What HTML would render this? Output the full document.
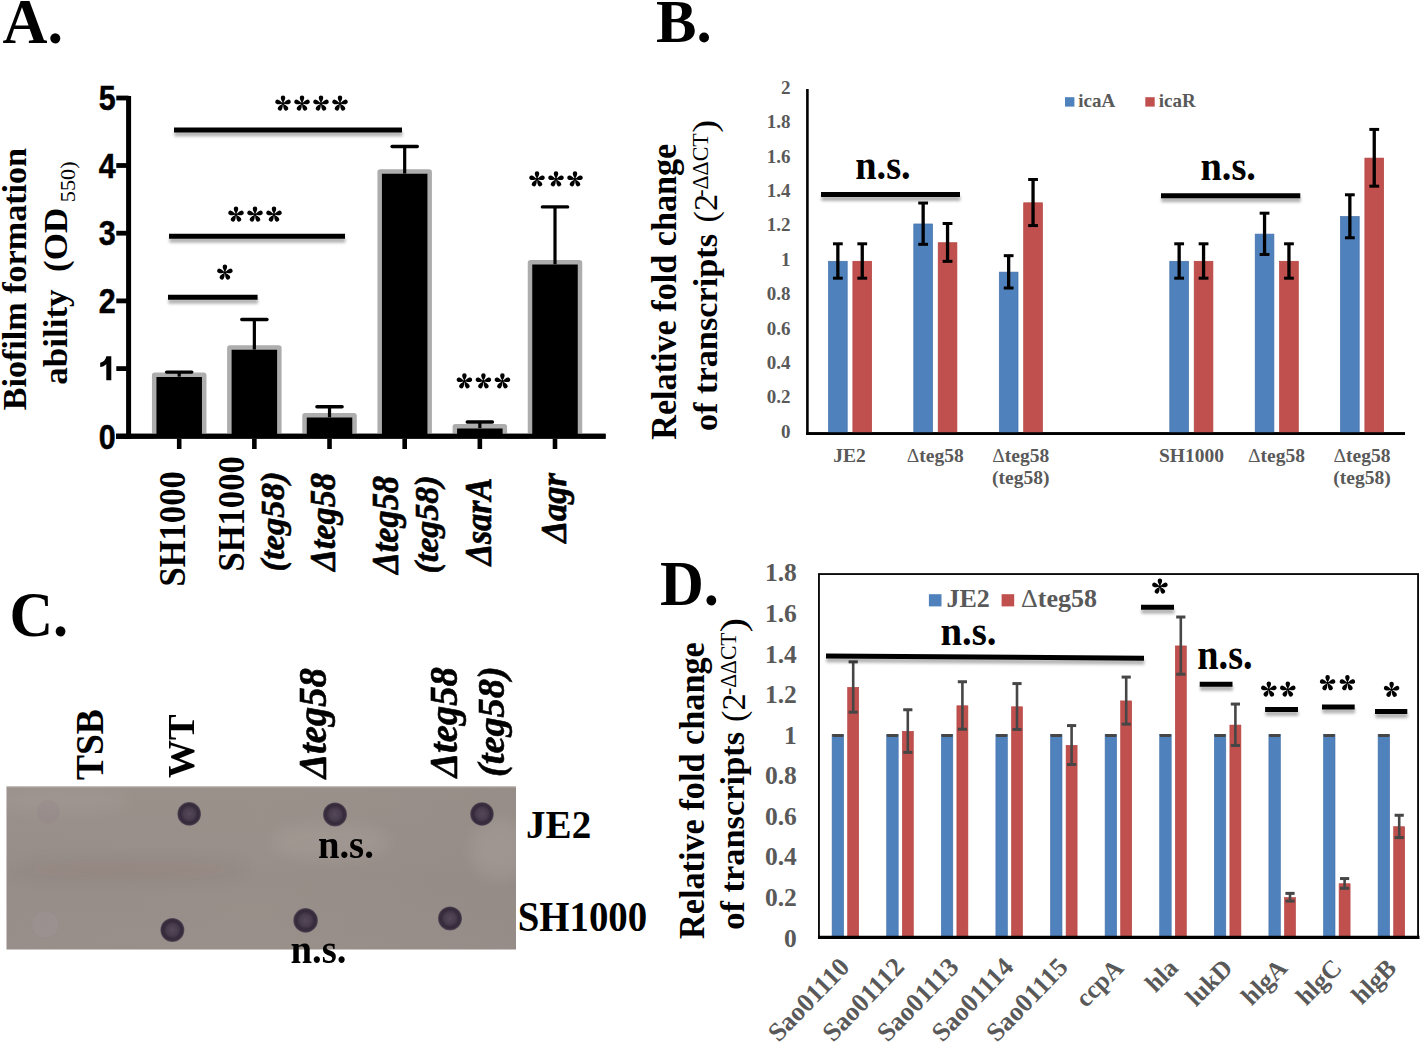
<!DOCTYPE html>
<html><head><meta charset="utf-8"><title>Figure</title>
<style>
html,body{margin:0;padding:0;background:#fff;width:1420px;height:1044px;overflow:hidden;}
svg{display:block;font-family:"Liberation Serif",serif;}
</style></head><body>
<svg width="1420" height="1044" viewBox="0 0 1420 1044">
<defs>
<filter id="blur" x="-10%" y="-150%" width="120%" height="400%"><feGaussianBlur stdDeviation="1.6"/></filter>
<filter id="soft" x="-30%" y="-30%" width="160%" height="160%"><feGaussianBlur stdDeviation="0.7"/></filter>
<path id="lobe" d="M0,0 C-0.5,-1.6 -2.25,-3.5 -2.25,-5.75 A2.25,2.25 0 0 1 2.25,-5.75 C2.25,-3.5 0.5,-1.6 0,0 Z"/>
<g id="ast"><use href="#lobe"/><use href="#lobe" transform="rotate(74)"/><use href="#lobe" transform="rotate(-74)"/><use href="#lobe" transform="rotate(148)"/><use href="#lobe" transform="rotate(-148)"/><circle r="1.2"/></g>
<linearGradient id="blotg" x1="0" y1="0" x2="0" y2="1">
<stop offset="0" stop-color="#9a908a"/>
<stop offset="0.45" stop-color="#978d88"/>
<stop offset="0.55" stop-color="#958b86"/>
<stop offset="1" stop-color="#988e89"/>
</linearGradient>
<linearGradient id="blotg2" x1="0" y1="0" x2="1" y2="0">
<stop offset="0" stop-color="#9a908b"/>
<stop offset="0.5" stop-color="#9c928c"/>
<stop offset="1" stop-color="#968c87"/>
</linearGradient>
<radialGradient id="dotg">
<stop offset="0" stop-color="#554858"/>
<stop offset="0.45" stop-color="#4a3d4f"/>
<stop offset="0.75" stop-color="#352a3a"/>
<stop offset="0.9" stop-color="#3b3040"/>
<stop offset="1" stop-color="#5e5360"/>
</radialGradient>
<clipPath id="blotclip"><rect x="6.6" y="786.6" width="509.4" height="162.8"/></clipPath>
<filter id="patch" x="-20%" y="-50%" width="140%" height="200%"><feGaussianBlur stdDeviation="8"/></filter>
</defs>
<g transform="matrix(0.989,0,0,0.99,-0.558,0.319)"><text x="3" y="43.5" font-size="63" font-weight="bold">A.</text></g>
<line x1="128.6" y1="96" x2="128.6" y2="438.8" stroke="#000" stroke-width="5"/>
<line x1="116" y1="436.3" x2="605.6" y2="436.3" stroke="#000" stroke-width="5"/>
<line x1="116.3" y1="436.3" x2="128.6" y2="436.3" stroke="#000" stroke-width="4.8"/>
<text x="0" y="0" font-size="35" font-weight="bold" text-anchor="end" font-family='"Liberation Sans", sans-serif' transform="translate(115.6,448.5) scale(0.87,1)" stroke="#000" stroke-width="0.5">0</text>
<line x1="116.3" y1="368.6" x2="128.6" y2="368.6" stroke="#000" stroke-width="4.8"/>
<path transform="translate(0,0)" d="M111.3,356.3 L111.3,380.2 L106.3,380.2 L106.3,364.3 C104.6,365.9 102.5,366.8 100.2,367 L100.2,362.7 C103.2,362.3 105.6,360.1 106.4,356.3 Z"/>
<line x1="116.3" y1="300.9" x2="128.6" y2="300.9" stroke="#000" stroke-width="4.8"/>
<text x="0" y="0" font-size="35" font-weight="bold" text-anchor="end" font-family='"Liberation Sans", sans-serif' transform="translate(115.6,313.1) scale(0.87,1)" stroke="#000" stroke-width="0.5">2</text>
<line x1="116.3" y1="233.2" x2="128.6" y2="233.2" stroke="#000" stroke-width="4.8"/>
<text x="0" y="0" font-size="35" font-weight="bold" text-anchor="end" font-family='"Liberation Sans", sans-serif' transform="translate(115.6,245.4) scale(0.87,1)" stroke="#000" stroke-width="0.5">3</text>
<line x1="116.3" y1="165.5" x2="128.6" y2="165.5" stroke="#000" stroke-width="4.8"/>
<text x="0" y="0" font-size="35" font-weight="bold" text-anchor="end" font-family='"Liberation Sans", sans-serif' transform="translate(115.6,177.7) scale(0.87,1)" stroke="#000" stroke-width="0.5">4</text>
<line x1="116.3" y1="98" x2="128.6" y2="98" stroke="#000" stroke-width="4.8"/>
<text x="0" y="0" font-size="35" font-weight="bold" text-anchor="end" font-family='"Liberation Sans", sans-serif' transform="translate(115.6,110.2) scale(0.87,1)" stroke="#000" stroke-width="0.5">5</text>
<line x1="179.2" y1="436.3" x2="179.2" y2="449" stroke="#000" stroke-width="4.6"/>
<rect x="154.2" y="374.693" width="50" height="61.607" fill="#000" stroke="#adadad" stroke-width="4.5" rx="0.6"/>
<line x1="179.2" y1="376.693" x2="179.2" y2="372.1" stroke="#000" stroke-width="3.2"/>
<line x1="166.6" y1="372.1" x2="191.8" y2="372.1" stroke="#000" stroke-width="3.4" stroke-linecap="round"/>
<line x1="254.36" y1="436.3" x2="254.36" y2="449" stroke="#000" stroke-width="4.6"/>
<rect x="229.36" y="347.613" width="50" height="88.687" fill="#000" stroke="#adadad" stroke-width="4.5" rx="0.6"/>
<line x1="254.36" y1="349.613" x2="254.36" y2="319.5" stroke="#000" stroke-width="3.2"/>
<line x1="241.76" y1="319.5" x2="266.96" y2="319.5" stroke="#000" stroke-width="3.4" stroke-linecap="round"/>
<line x1="329.52" y1="436.3" x2="329.52" y2="449" stroke="#000" stroke-width="4.6"/>
<rect x="304.52" y="415.313" width="50" height="20.987" fill="#000" stroke="#adadad" stroke-width="4.5" rx="0.6"/>
<line x1="329.52" y1="417.313" x2="329.52" y2="406.7" stroke="#000" stroke-width="3.2"/>
<line x1="316.92" y1="406.7" x2="342.12" y2="406.7" stroke="#000" stroke-width="3.4" stroke-linecap="round"/>
<line x1="404.68" y1="436.3" x2="404.68" y2="449" stroke="#000" stroke-width="4.6"/>
<rect x="379.68" y="171.593" width="50" height="264.707" fill="#000" stroke="#adadad" stroke-width="4.5" rx="0.6"/>
<line x1="404.68" y1="173.593" x2="404.68" y2="146.5" stroke="#000" stroke-width="3.2"/>
<line x1="392.08" y1="146.5" x2="417.28" y2="146.5" stroke="#000" stroke-width="3.4" stroke-linecap="round"/>
<line x1="479.84" y1="436.3" x2="479.84" y2="449" stroke="#000" stroke-width="4.6"/>
<rect x="454.84" y="426.145" width="50" height="10.155" fill="#000" stroke="#adadad" stroke-width="4.5" rx="0.6"/>
<line x1="479.84" y1="428.145" x2="479.84" y2="422" stroke="#000" stroke-width="3.2"/>
<line x1="467.24" y1="422" x2="492.44" y2="422" stroke="#000" stroke-width="3.4" stroke-linecap="round"/>
<line x1="555" y1="436.3" x2="555" y2="449" stroke="#000" stroke-width="4.6"/>
<rect x="530" y="262.311" width="50" height="173.989" fill="#000" stroke="#adadad" stroke-width="4.5" rx="0.6"/>
<line x1="555" y1="264.311" x2="555" y2="206.9" stroke="#000" stroke-width="3.2"/>
<line x1="542.4" y1="206.9" x2="567.6" y2="206.9" stroke="#000" stroke-width="3.4" stroke-linecap="round"/>
<line x1="116" y1="436.3" x2="605.6" y2="436.3" stroke="#000" stroke-width="5"/>
<rect x="0" y="-2.5" width="89.6" height="5" fill="#000" opacity="0.3" filter="url(#blur)" transform="translate(168.4,301.2) rotate(0)"/>
<line x1="168" y1="297.3" x2="257.6" y2="297.3" stroke="#000" stroke-width="5"/>
<rect x="0" y="-2.5" width="176" height="5" fill="#000" opacity="0.3" filter="url(#blur)" transform="translate(169.4,240.2) rotate(0)"/>
<line x1="169" y1="236.3" x2="345" y2="236.3" stroke="#000" stroke-width="5"/>
<rect x="0" y="-2.5" width="228" height="5" fill="#000" opacity="0.3" filter="url(#blur)" transform="translate(174.4,133.9) rotate(0)"/>
<line x1="174" y1="130" x2="402" y2="130" stroke="#000" stroke-width="5"/>
<use href="#ast" x="224.9" y="272.4"/>
<use href="#ast" x="236" y="214.5"/>
<use href="#ast" x="255" y="214.5"/>
<use href="#ast" x="274" y="214.5"/>
<use href="#ast" x="283" y="103.5"/>
<use href="#ast" x="302" y="103.5"/>
<use href="#ast" x="321" y="103.5"/>
<use href="#ast" x="340" y="103.5"/>
<use href="#ast" x="464.4" y="381.3"/>
<use href="#ast" x="483.4" y="381.3"/>
<use href="#ast" x="502.4" y="381.3"/>
<use href="#ast" x="537" y="179.3"/>
<use href="#ast" x="556" y="179.3"/>
<use href="#ast" x="575" y="179.3"/>
<g transform="matrix(0.948,0,0,0.961,1.252,10.72)"><text x="0" y="0" font-size="35.5" font-weight="bold" text-anchor="middle" transform="translate(26,279.3) rotate(-90)">Biofilm formation</text></g>
<g transform="matrix(0.97,0,0,0.986,2.349,3.9)"><text transform="translate(66.8,273) rotate(-90)" x="0" y="0" font-size="35.5" font-weight="bold" text-anchor="middle">ability&#160;&#160;(OD<tspan font-size="22.6" font-weight="normal" dy="8">&#160;550)</tspan></text></g>
<g transform="matrix(1.091,0,0,1.018,-16.818,-9.618)"><text x="0" y="0" font-size="34" font-weight="bold" text-anchor="middle" transform="translate(185,529) rotate(-90)">SH1000</text></g>
<g transform="matrix(1.091,0,0,1.018,-22.182,-9.345)"><text x="0" y="0" font-size="34" font-weight="bold" text-anchor="middle" transform="translate(244,514) rotate(-90)">SH1000</text></g>
<g transform="matrix(0.969,0,0,1.021,7.188,-10.979)"><text x="0" y="0" font-size="34" font-weight="bold" font-style="italic" text-anchor="middle" transform="translate(285.5,521.5) rotate(-90)" stroke="#000" stroke-width="0.6">(teg58)</text></g>
<g transform="matrix(1.083,0,0,1.01,-28.386,-5.837)"><text x="0" y="0" font-size="34" font-weight="bold" font-style="italic" text-anchor="middle" transform="translate(335.5,522.5) rotate(-90)" stroke="#000" stroke-width="0.6">&#916;teg58</text></g>
<g transform="matrix(1.09,0,0,1.01,-35.71,-5.867)"><text x="0" y="0" font-size="34" font-weight="bold" font-style="italic" text-anchor="middle" transform="translate(398,525.5) rotate(-90)" stroke="#000" stroke-width="0.6">&#916;teg58</text></g>
<g transform="matrix(0.969,0,0,1,12,0)"><text x="0" y="0" font-size="34" font-weight="bold" font-style="italic" text-anchor="middle" transform="translate(439.5,524.5) rotate(-90)" stroke="#000" stroke-width="0.6">(teg58)</text></g>
<g transform="matrix(1.091,0,0,1,-44.636,-1)"><text x="0" y="0" font-size="34" font-weight="bold" font-style="italic" text-anchor="middle" transform="translate(491,522.5) rotate(-90)" stroke="#000" stroke-width="0.6">&#916;sarA</text></g>
<g transform="matrix(1.069,0,0,1.014,-39.586,-7.771)"><text x="0" y="0" font-size="34" font-weight="bold" font-style="italic" text-anchor="middle" transform="translate(566.5,508.5) rotate(-90)" stroke="#000" stroke-width="0.6">&#916;agr</text></g>
<g transform="matrix(0.996,0,0,1.015,2.527,-0.13)"><text x="656" y="41.5" font-size="61" font-weight="bold">B.</text></g>
<line x1="807.4" y1="89" x2="807.4" y2="435" stroke="#000" stroke-width="2.6"/>
<line x1="806.1" y1="433.6" x2="1405" y2="433.6" stroke="#000" stroke-width="2.9"/>
<text x="790.5" y="437.8" font-size="19" font-weight="bold" fill="#595959" text-anchor="end">0</text>
<text x="790.5" y="403.4" font-size="19" font-weight="bold" fill="#595959" text-anchor="end">0.2</text>
<text x="790.5" y="369" font-size="19" font-weight="bold" fill="#595959" text-anchor="end">0.4</text>
<text x="790.5" y="334.6" font-size="19" font-weight="bold" fill="#595959" text-anchor="end">0.6</text>
<text x="790.5" y="300.2" font-size="19" font-weight="bold" fill="#595959" text-anchor="end">0.8</text>
<text x="790.5" y="265.8" font-size="19" font-weight="bold" fill="#595959" text-anchor="end">1</text>
<text x="790.5" y="231.4" font-size="19" font-weight="bold" fill="#595959" text-anchor="end">1.2</text>
<text x="790.5" y="197" font-size="19" font-weight="bold" fill="#595959" text-anchor="end">1.4</text>
<text x="790.5" y="162.6" font-size="19" font-weight="bold" fill="#595959" text-anchor="end">1.6</text>
<text x="790.5" y="128.2" font-size="19" font-weight="bold" fill="#595959" text-anchor="end">1.8</text>
<text x="790.5" y="93.8" font-size="19" font-weight="bold" fill="#595959" text-anchor="end">2</text>
<rect x="828.5" y="261.3" width="18.7" height="171.7" fill="#4f81bd" stroke="#4470a8" stroke-width="0.7"/>
<rect x="852.9" y="261.3" width="18.7" height="171.7" fill="#c0504d" stroke="#b2403d" stroke-width="0.7"/>
<line x1="837.85" y1="243.8" x2="837.85" y2="278.2" stroke="#000" stroke-width="3.3"/>
<line x1="832.95" y1="243.8" x2="842.75" y2="243.8" stroke="#000" stroke-width="3"/>
<line x1="832.95" y1="278.2" x2="842.75" y2="278.2" stroke="#000" stroke-width="3"/>
<line x1="862.25" y1="243.8" x2="862.25" y2="278.2" stroke="#000" stroke-width="3.3"/>
<line x1="857.35" y1="243.8" x2="867.15" y2="243.8" stroke="#000" stroke-width="3"/>
<line x1="857.35" y1="278.2" x2="867.15" y2="278.2" stroke="#000" stroke-width="3"/>
<rect x="913.8" y="223.976" width="18.7" height="209.024" fill="#4f81bd" stroke="#4470a8" stroke-width="0.7"/>
<rect x="938.2" y="242.724" width="18.7" height="190.276" fill="#c0504d" stroke="#b2403d" stroke-width="0.7"/>
<line x1="923.15" y1="203.036" x2="923.15" y2="244.316" stroke="#000" stroke-width="3.3"/>
<line x1="918.25" y1="203.036" x2="928.05" y2="203.036" stroke="#000" stroke-width="3"/>
<line x1="918.25" y1="244.316" x2="928.05" y2="244.316" stroke="#000" stroke-width="3"/>
<line x1="947.55" y1="223.504" x2="947.55" y2="261.344" stroke="#000" stroke-width="3.3"/>
<line x1="942.65" y1="223.504" x2="952.45" y2="223.504" stroke="#000" stroke-width="3"/>
<line x1="942.65" y1="261.344" x2="952.45" y2="261.344" stroke="#000" stroke-width="3"/>
<rect x="999.3" y="272.136" width="18.7" height="160.864" fill="#4f81bd" stroke="#4470a8" stroke-width="0.7"/>
<rect x="1023.7" y="202.82" width="18.7" height="230.18" fill="#c0504d" stroke="#b2403d" stroke-width="0.7"/>
<line x1="1008.65" y1="255.668" x2="1008.65" y2="288.004" stroke="#000" stroke-width="3.3"/>
<line x1="1003.75" y1="255.668" x2="1013.55" y2="255.668" stroke="#000" stroke-width="3"/>
<line x1="1003.75" y1="288.004" x2="1013.55" y2="288.004" stroke="#000" stroke-width="3"/>
<line x1="1033.05" y1="179.472" x2="1033.05" y2="225.568" stroke="#000" stroke-width="3.3"/>
<line x1="1028.15" y1="179.472" x2="1037.95" y2="179.472" stroke="#000" stroke-width="3"/>
<line x1="1028.15" y1="225.568" x2="1037.95" y2="225.568" stroke="#000" stroke-width="3"/>
<rect x="1169.8" y="261.3" width="18.7" height="171.7" fill="#4f81bd" stroke="#4470a8" stroke-width="0.7"/>
<rect x="1194.2" y="261.3" width="18.7" height="171.7" fill="#c0504d" stroke="#b2403d" stroke-width="0.7"/>
<line x1="1179.15" y1="243.8" x2="1179.15" y2="278.2" stroke="#000" stroke-width="3.3"/>
<line x1="1174.25" y1="243.8" x2="1184.05" y2="243.8" stroke="#000" stroke-width="3"/>
<line x1="1174.25" y1="278.2" x2="1184.05" y2="278.2" stroke="#000" stroke-width="3"/>
<line x1="1203.55" y1="243.8" x2="1203.55" y2="278.2" stroke="#000" stroke-width="3.3"/>
<line x1="1198.65" y1="243.8" x2="1208.45" y2="243.8" stroke="#000" stroke-width="3"/>
<line x1="1198.65" y1="278.2" x2="1208.45" y2="278.2" stroke="#000" stroke-width="3"/>
<rect x="1255.2" y="234.124" width="18.7" height="198.876" fill="#4f81bd" stroke="#4470a8" stroke-width="0.7"/>
<rect x="1279.6" y="261.3" width="18.7" height="171.7" fill="#c0504d" stroke="#b2403d" stroke-width="0.7"/>
<line x1="1264.55" y1="213.184" x2="1264.55" y2="254.464" stroke="#000" stroke-width="3.3"/>
<line x1="1259.65" y1="213.184" x2="1269.45" y2="213.184" stroke="#000" stroke-width="3"/>
<line x1="1259.65" y1="254.464" x2="1269.45" y2="254.464" stroke="#000" stroke-width="3"/>
<line x1="1288.95" y1="243.8" x2="1288.95" y2="278.2" stroke="#000" stroke-width="3.3"/>
<line x1="1284.05" y1="243.8" x2="1293.85" y2="243.8" stroke="#000" stroke-width="3"/>
<line x1="1284.05" y1="278.2" x2="1293.85" y2="278.2" stroke="#000" stroke-width="3"/>
<rect x="1340.5" y="216.58" width="18.7" height="216.42" fill="#4f81bd" stroke="#4470a8" stroke-width="0.7"/>
<rect x="1364.9" y="158.1" width="18.7" height="274.9" fill="#c0504d" stroke="#b2403d" stroke-width="0.7"/>
<line x1="1349.85" y1="194.78" x2="1349.85" y2="237.78" stroke="#000" stroke-width="3.3"/>
<line x1="1344.95" y1="194.78" x2="1354.75" y2="194.78" stroke="#000" stroke-width="3"/>
<line x1="1344.95" y1="237.78" x2="1354.75" y2="237.78" stroke="#000" stroke-width="3"/>
<line x1="1374.25" y1="129.42" x2="1374.25" y2="186.18" stroke="#000" stroke-width="3.3"/>
<line x1="1369.35" y1="129.42" x2="1379.15" y2="129.42" stroke="#000" stroke-width="3"/>
<line x1="1369.35" y1="186.18" x2="1379.15" y2="186.18" stroke="#000" stroke-width="3"/>
<line x1="806.1" y1="433.6" x2="1405" y2="433.6" stroke="#000" stroke-width="2.9"/>
<rect x="1065" y="97.2" width="9.4" height="9.4" fill="#4f81bd"/>
<text x="1078.3" y="106.6" font-size="19" font-weight="bold" fill="#595959">icaA</text>
<rect x="1145.3" y="97.2" width="9.4" height="9.4" fill="#c0504d"/>
<text x="1158.7" y="106.6" font-size="19" font-weight="bold" fill="#595959">icaR</text>
<rect x="0" y="-2.5" width="139" height="5" fill="#000" opacity="0.3" filter="url(#blur)" transform="translate(821.4,198.5) rotate(0)"/>
<line x1="821" y1="194.6" x2="960" y2="194.6" stroke="#000" stroke-width="5"/>
<g transform="matrix(1.066,0,0,1.147,-57.762,-26.871)"><text x="882.5" y="179.5" font-size="36" font-weight="bold" text-anchor="middle">n.s.</text></g>
<rect x="0" y="-2.5" width="139.3" height="5" fill="#000" opacity="0.3" filter="url(#blur)" transform="translate(1161.4,199.7) rotate(0)"/>
<line x1="1161" y1="195.8" x2="1300.3" y2="195.8" stroke="#000" stroke-width="5"/>
<g transform="matrix(1.066,0,0,1.147,-80.332,-27.318)"><text x="1227.5" y="180.5" font-size="36" font-weight="bold" text-anchor="middle">n.s.</text></g>
<text x="849.5" y="461.5" font-size="19.5" font-weight="bold" fill="#595959" text-anchor="middle">JE2</text>
<text x="935.2" y="461.5" font-size="19.5" font-weight="bold" fill="#595959" text-anchor="middle"><tspan font-weight="normal">&#916;</tspan>teg58</text>
<text x="1020.7" y="461.5" font-size="19.5" font-weight="bold" fill="#595959" text-anchor="middle"><tspan font-weight="normal">&#916;</tspan>teg58</text>
<text x="1020.7" y="483.5" font-size="19.5" font-weight="bold" fill="#595959" text-anchor="middle">(teg58)</text>
<text x="1191.5" y="461.5" font-size="19.5" font-weight="bold" fill="#595959" text-anchor="middle">SH1000</text>
<text x="1276.5" y="461.5" font-size="19.5" font-weight="bold" fill="#595959" text-anchor="middle"><tspan font-weight="normal">&#916;</tspan>teg58</text>
<text x="1362" y="461.5" font-size="19.5" font-weight="bold" fill="#595959" text-anchor="middle"><tspan font-weight="normal">&#916;</tspan>teg58</text>
<text x="1362" y="483.5" font-size="19.5" font-weight="bold" fill="#595959" text-anchor="middle">(teg58)</text>
<g transform="matrix(0.97,0,0,0.949,19.558,15.197)"><text x="0" y="0" font-size="36" font-weight="bold" text-anchor="middle" transform="translate(677,291.4) rotate(-90)">Relative fold change</text></g>
<g transform="matrix(0.93,0,0,0.953,49.6,21.299)"><text x="0" y="0" font-size="36" font-weight="bold" transform="translate(717.5,430) rotate(-90)">of transcripts</text></g>
<g transform="matrix(1.1,0,0,1.109,-72.2,-23.722)"><text x="0" y="0" font-size="31" transform="translate(717.5,222) rotate(-90)">(2</text></g>
<g transform="matrix(1.086,0,0,0.997,-60.986,1.429)"><text x="0" y="0" font-size="22" transform="translate(708,196) rotate(-90)">-&#916;&#916;CT</text></g>
<g transform="matrix(1.062,0,0,1.25,-45.8,-32.35)"><text x="0" y="0" font-size="31" transform="translate(717.5,132) rotate(-90)">)</text></g>
<g transform="matrix(0.991,0,0,1.053,-1.47,-33.843)"><text x="11" y="636.5" font-size="61" font-weight="bold">C.</text></g>
<rect x="6.6" y="786.6" width="509.4" height="162.8" fill="url(#blotg)"/>
<rect x="6.6" y="786.6" width="509.4" height="162.8" fill="url(#blotg2)" opacity="0.5"/>
<g clip-path="url(#blotclip)" filter="url(#patch)"><ellipse cx="330" cy="842" rx="60" ry="18" fill="#fff" opacity="0.07"/><ellipse cx="500" cy="850" rx="30" ry="30" fill="#fff" opacity="0.08"/><ellipse cx="60" cy="800" rx="70" ry="14" fill="#fff" opacity="0.05"/><ellipse cx="130" cy="870" rx="120" ry="10" fill="#3a2a2a" opacity="0.05"/></g>
<rect x="6.6" y="786.6" width="509.4" height="1" fill="#b4aca6" opacity="0.8"/>
<circle cx="48.3" cy="811.8" r="11" fill="#8a7c88" opacity="0.18" stroke="#7a6a78" stroke-opacity="0.25" stroke-width="1.2" filter="url(#soft)"/>
<circle cx="45.3" cy="924.6" r="13.6" fill="#a69ba6" opacity="0.22" stroke="#8a7a88" stroke-opacity="0.3" stroke-width="1.2" filter="url(#soft)"/>
<circle cx="189.2" cy="813.9" r="11.8" fill="url(#dotg)" filter="url(#soft)"/>
<circle cx="172.4" cy="930" r="12" fill="url(#dotg)" filter="url(#soft)"/>
<circle cx="335" cy="814.4" r="12" fill="url(#dotg)" filter="url(#soft)"/>
<circle cx="305.6" cy="920.4" r="12.3" fill="url(#dotg)" filter="url(#soft)"/>
<circle cx="482" cy="814" r="11.8" fill="url(#dotg)" filter="url(#soft)"/>
<circle cx="450" cy="918.4" r="12" fill="url(#dotg)" filter="url(#soft)"/>
<g transform="matrix(1.04,0,0,0.986,-4.12,10)"><text x="0" y="0" font-size="38" font-weight="bold" text-anchor="middle" transform="translate(103,745) rotate(-90)">TSB</text></g>
<g transform="matrix(1,0,0,1.006,-1,-5.019)"><text x="0" y="0" font-size="38" font-weight="bold" text-anchor="middle" transform="translate(195,746.8) rotate(-90)">WT</text></g>
<g transform="matrix(1.042,0,0,1.018,-14.812,-14.312)"><text x="0" y="0" font-size="38" font-weight="bold" font-style="italic" text-anchor="middle" transform="translate(327,724.5) rotate(-90)" stroke="#000" stroke-width="0.6">&#916;teg58</text></g>
<g transform="matrix(1.048,0,0,1.018,-22.994,-14.294)"><text x="0" y="0" font-size="38" font-weight="bold" font-style="italic" text-anchor="middle" transform="translate(458,723.5) rotate(-90)" stroke="#000" stroke-width="0.6">&#916;teg58</text></g>
<g transform="matrix(1,0,0,1.009,-1,-7.321)"><text x="0" y="0" font-size="38" font-weight="bold" font-style="italic" text-anchor="middle" transform="translate(505,722.5) rotate(-90)" stroke="#000" stroke-width="0.6">(teg58)</text></g>
<g transform="matrix(1.047,0,0,1.089,-16.059,-76.756)"><text x="345.7" y="858.6" font-size="37" font-weight="bold" text-anchor="middle">n.s.</text></g>
<g transform="matrix(1.048,0,0,1.133,-15.064,-127.867)"><text x="318.2" y="962.4" font-size="37" font-weight="bold" text-anchor="middle">n.s.</text></g>
<g transform="matrix(0.977,0,0,1.019,11.675,-16.635)"><text x="526.5" y="838.5" font-size="40" font-weight="bold">JE2</text></g>
<g transform="matrix(0.971,0,0,1.05,13.729,-46.2)"><text x="519" y="930.3" font-size="40" font-weight="bold">SH1000</text></g>
<g transform="matrix(0.995,0,0,1.03,3.341,-17.02)"><text x="660" y="604.4" font-size="61" font-weight="bold">D.</text></g>
<rect x="818.95" y="574.05" width="599.1" height="363" fill="none" stroke="#000" stroke-width="1.8"/>
<text x="796.8" y="946.6" font-size="25.5" font-weight="bold" fill="#595959" text-anchor="end">0</text>
<text x="796.8" y="906.02" font-size="25.5" font-weight="bold" fill="#595959" text-anchor="end">0.2</text>
<text x="796.8" y="865.44" font-size="25.5" font-weight="bold" fill="#595959" text-anchor="end">0.4</text>
<text x="796.8" y="824.86" font-size="25.5" font-weight="bold" fill="#595959" text-anchor="end">0.6</text>
<text x="796.8" y="784.28" font-size="25.5" font-weight="bold" fill="#595959" text-anchor="end">0.8</text>
<text x="796.8" y="743.7" font-size="25.5" font-weight="bold" fill="#595959" text-anchor="end">1</text>
<text x="796.8" y="703.12" font-size="25.5" font-weight="bold" fill="#595959" text-anchor="end">1.2</text>
<text x="796.8" y="662.54" font-size="25.5" font-weight="bold" fill="#595959" text-anchor="end">1.4</text>
<text x="796.8" y="621.96" font-size="25.5" font-weight="bold" fill="#595959" text-anchor="end">1.6</text>
<text x="796.8" y="581.38" font-size="25.5" font-weight="bold" fill="#595959" text-anchor="end">1.8</text>
<rect x="832.1" y="734.5" width="11.5" height="202.9" fill="#4f81bd" stroke="#4470a8" stroke-width="0.6"/>
<rect x="832.1" y="733.9" width="11.5" height="3" fill="#464646" rx="1.2"/>
<rect x="847.7" y="687.321" width="11" height="250.079" fill="#c0504d" stroke="#b2403d" stroke-width="0.6"/>
<line x1="853.2" y1="661.862" x2="853.2" y2="712.181" stroke="#464646" stroke-width="2.6"/>
<line x1="848.6" y1="661.862" x2="857.8" y2="661.862" stroke="#464646" stroke-width="3"/>
<line x1="848.6" y1="712.181" x2="857.8" y2="712.181" stroke="#464646" stroke-width="3"/>
<rect x="886.7" y="734.5" width="11.5" height="202.9" fill="#4f81bd" stroke="#4470a8" stroke-width="0.6"/>
<rect x="886.7" y="733.9" width="11.5" height="3" fill="#464646" rx="1.2"/>
<rect x="902.3" y="731.351" width="11" height="206.049" fill="#c0504d" stroke="#b2403d" stroke-width="0.6"/>
<line x1="907.8" y1="709.746" x2="907.8" y2="752.355" stroke="#464646" stroke-width="2.6"/>
<line x1="903.2" y1="709.746" x2="912.4" y2="709.746" stroke="#464646" stroke-width="3"/>
<line x1="903.2" y1="752.355" x2="912.4" y2="752.355" stroke="#464646" stroke-width="3"/>
<rect x="941.3" y="734.5" width="11.5" height="202.9" fill="#4f81bd" stroke="#4470a8" stroke-width="0.6"/>
<rect x="941.3" y="733.9" width="11.5" height="3" fill="#464646" rx="1.2"/>
<rect x="956.9" y="705.785" width="11" height="231.615" fill="#c0504d" stroke="#b2403d" stroke-width="0.6"/>
<line x1="962.4" y1="681.746" x2="962.4" y2="729.225" stroke="#464646" stroke-width="2.6"/>
<line x1="957.8" y1="681.746" x2="967" y2="681.746" stroke="#464646" stroke-width="3"/>
<line x1="957.8" y1="729.225" x2="967" y2="729.225" stroke="#464646" stroke-width="3"/>
<rect x="995.9" y="734.5" width="11.5" height="202.9" fill="#4f81bd" stroke="#4470a8" stroke-width="0.6"/>
<rect x="995.9" y="733.9" width="11.5" height="3" fill="#464646" rx="1.2"/>
<rect x="1011.5" y="706.8" width="11" height="230.6" fill="#c0504d" stroke="#b2403d" stroke-width="0.6"/>
<line x1="1017" y1="683.572" x2="1017" y2="729.428" stroke="#464646" stroke-width="2.6"/>
<line x1="1012.4" y1="683.572" x2="1021.6" y2="683.572" stroke="#464646" stroke-width="3"/>
<line x1="1012.4" y1="729.428" x2="1021.6" y2="729.428" stroke="#464646" stroke-width="3"/>
<rect x="1050.5" y="734.5" width="11.5" height="202.9" fill="#4f81bd" stroke="#4470a8" stroke-width="0.6"/>
<rect x="1050.5" y="733.9" width="11.5" height="3" fill="#464646" rx="1.2"/>
<rect x="1066.1" y="745.351" width="11" height="192.049" fill="#c0504d" stroke="#b2403d" stroke-width="0.6"/>
<line x1="1071.6" y1="725.572" x2="1071.6" y2="764.529" stroke="#464646" stroke-width="2.6"/>
<line x1="1067" y1="725.572" x2="1076.2" y2="725.572" stroke="#464646" stroke-width="3"/>
<line x1="1067" y1="764.529" x2="1076.2" y2="764.529" stroke="#464646" stroke-width="3"/>
<rect x="1105.1" y="734.5" width="11.5" height="202.9" fill="#4f81bd" stroke="#4470a8" stroke-width="0.6"/>
<rect x="1105.1" y="733.9" width="11.5" height="3" fill="#464646" rx="1.2"/>
<rect x="1120.7" y="700.916" width="11" height="236.484" fill="#c0504d" stroke="#b2403d" stroke-width="0.6"/>
<line x1="1126.2" y1="677.079" x2="1126.2" y2="724.152" stroke="#464646" stroke-width="2.6"/>
<line x1="1121.6" y1="677.079" x2="1130.8" y2="677.079" stroke="#464646" stroke-width="3"/>
<line x1="1121.6" y1="724.152" x2="1130.8" y2="724.152" stroke="#464646" stroke-width="3"/>
<rect x="1159.7" y="734.5" width="11.5" height="202.9" fill="#4f81bd" stroke="#4470a8" stroke-width="0.6"/>
<rect x="1159.7" y="733.9" width="11.5" height="3" fill="#464646" rx="1.2"/>
<rect x="1175.3" y="645.93" width="11" height="291.47" fill="#c0504d" stroke="#b2403d" stroke-width="0.6"/>
<line x1="1180.8" y1="617.021" x2="1180.8" y2="674.239" stroke="#464646" stroke-width="2.6"/>
<line x1="1176.2" y1="617.021" x2="1185.4" y2="617.021" stroke="#464646" stroke-width="3"/>
<line x1="1176.2" y1="674.239" x2="1185.4" y2="674.239" stroke="#464646" stroke-width="3"/>
<rect x="1214.3" y="734.5" width="11.5" height="202.9" fill="#4f81bd" stroke="#4470a8" stroke-width="0.6"/>
<rect x="1214.3" y="733.9" width="11.5" height="3" fill="#464646" rx="1.2"/>
<rect x="1229.9" y="725.061" width="11" height="212.339" fill="#c0504d" stroke="#b2403d" stroke-width="0.6"/>
<line x1="1235.4" y1="704.065" x2="1235.4" y2="745.457" stroke="#464646" stroke-width="2.6"/>
<line x1="1230.8" y1="704.065" x2="1240" y2="704.065" stroke="#464646" stroke-width="3"/>
<line x1="1230.8" y1="745.457" x2="1240" y2="745.457" stroke="#464646" stroke-width="3"/>
<rect x="1268.9" y="734.5" width="11.5" height="202.9" fill="#4f81bd" stroke="#4470a8" stroke-width="0.6"/>
<rect x="1268.9" y="733.9" width="11.5" height="3" fill="#464646" rx="1.2"/>
<rect x="1284.5" y="897.526" width="11" height="39.874" fill="#c0504d" stroke="#b2403d" stroke-width="0.6"/>
<line x1="1290" y1="893.371" x2="1290" y2="901.081" stroke="#464646" stroke-width="2.6"/>
<line x1="1285.4" y1="893.371" x2="1294.6" y2="893.371" stroke="#464646" stroke-width="3"/>
<line x1="1285.4" y1="901.081" x2="1294.6" y2="901.081" stroke="#464646" stroke-width="3"/>
<rect x="1323.5" y="734.5" width="11.5" height="202.9" fill="#4f81bd" stroke="#4470a8" stroke-width="0.6"/>
<rect x="1323.5" y="733.9" width="11.5" height="3" fill="#464646" rx="1.2"/>
<rect x="1339.1" y="883.729" width="11" height="53.671" fill="#c0504d" stroke="#b2403d" stroke-width="0.6"/>
<line x1="1344.6" y1="878.559" x2="1344.6" y2="888.298" stroke="#464646" stroke-width="2.6"/>
<line x1="1340" y1="878.559" x2="1349.2" y2="878.559" stroke="#464646" stroke-width="3"/>
<line x1="1340" y1="888.298" x2="1349.2" y2="888.298" stroke="#464646" stroke-width="3"/>
<rect x="1378.1" y="734.5" width="11.5" height="202.9" fill="#4f81bd" stroke="#4470a8" stroke-width="0.6"/>
<rect x="1378.1" y="733.9" width="11.5" height="3" fill="#464646" rx="1.2"/>
<rect x="1393.7" y="826.714" width="11" height="110.686" fill="#c0504d" stroke="#b2403d" stroke-width="0.6"/>
<line x1="1399.2" y1="815.254" x2="1399.2" y2="837.573" stroke="#464646" stroke-width="2.6"/>
<line x1="1394.6" y1="815.254" x2="1403.8" y2="815.254" stroke="#464646" stroke-width="3"/>
<line x1="1394.6" y1="837.573" x2="1403.8" y2="837.573" stroke="#464646" stroke-width="3"/>
<line x1="818" y1="937.4" x2="1419.5" y2="937.4" stroke="#000" stroke-width="3.1"/>
<rect x="928.9" y="594.2" width="12.6" height="12.2" fill="#4f81bd"/>
<text x="946.5" y="607.2" font-size="26" font-weight="bold" fill="#595959">JE2</text>
<rect x="1001.6" y="594.2" width="12.6" height="12.2" fill="#c0504d"/>
<text x="1021" y="607.2" font-size="26" font-weight="bold" fill="#595959"><tspan font-weight="normal">&#916;</tspan>teg58</text>
<rect x="0" y="-2.5" width="318.008" height="5" fill="#000" opacity="0.3" filter="url(#blur)" transform="translate(826.4,659.9) rotate(0.396)"/>
<line x1="826" y1="656" x2="1144" y2="658.2" stroke="#000" stroke-width="5"/>
<g transform="matrix(1.048,0,0,1.122,-46.264,-78.633)"><text x="968.2" y="645.2" font-size="37" font-weight="bold" text-anchor="middle">n.s.</text></g>
<rect x="0" y="-2.5" width="33" height="5" fill="#000" opacity="0.3" filter="url(#blur)" transform="translate(1141.4,611.2) rotate(0)"/>
<line x1="1141" y1="607.3" x2="1174" y2="607.3" stroke="#000" stroke-width="5"/>
<use href="#ast" x="1159.9" y="586.5"/>
<rect x="0" y="-2.5" width="32.8" height="5" fill="#000" opacity="0.3" filter="url(#blur)" transform="translate(1200.1,688.2) rotate(0)"/>
<line x1="1199.7" y1="684.3" x2="1232.5" y2="684.3" stroke="#000" stroke-width="5"/>
<g transform="matrix(1.033,0,0,1.2,-40.467,-133.8)"><text x="1225" y="669" font-size="37" font-weight="bold" text-anchor="middle">n.s.</text></g>
<rect x="0" y="-2.5" width="32.9" height="5" fill="#000" opacity="0.3" filter="url(#blur)" transform="translate(1265.5,713.4) rotate(0)"/>
<line x1="1265.1" y1="709.5" x2="1298" y2="709.5" stroke="#000" stroke-width="5"/>
<use href="#ast" x="1268.8" y="689.4"/>
<use href="#ast" x="1287.8" y="689.4"/>
<rect x="0" y="-2.5" width="32.7" height="5" fill="#000" opacity="0.3" filter="url(#blur)" transform="translate(1322.4,710.9) rotate(0)"/>
<line x1="1322" y1="707" x2="1354.7" y2="707" stroke="#000" stroke-width="5"/>
<use href="#ast" x="1327.6" y="683.1"/>
<use href="#ast" x="1347.4" y="683.1"/>
<rect x="0" y="-2.5" width="32.3" height="5" fill="#000" opacity="0.3" filter="url(#blur)" transform="translate(1375.4,715.5) rotate(0)"/>
<line x1="1375" y1="711.6" x2="1407.3" y2="711.6" stroke="#000" stroke-width="5"/>
<use href="#ast" x="1391.6" y="689.7"/>
<text x="0" y="0" font-size="26.4" font-weight="bold" fill="#595959" text-anchor="end" transform="translate(851,968.2) rotate(-46)">Sao01110</text>
<text x="0" y="0" font-size="26.4" font-weight="bold" fill="#595959" text-anchor="end" transform="translate(905.6,968.2) rotate(-46)">Sao01112</text>
<text x="0" y="0" font-size="26.4" font-weight="bold" fill="#595959" text-anchor="end" transform="translate(960.2,968.2) rotate(-46)">Sao01113</text>
<text x="0" y="0" font-size="26.4" font-weight="bold" fill="#595959" text-anchor="end" transform="translate(1014.8,968.2) rotate(-46)">Sao01114</text>
<text x="0" y="0" font-size="26.4" font-weight="bold" fill="#595959" text-anchor="end" transform="translate(1069.4,968.2) rotate(-46)">Sao01115</text>
<text x="0" y="0" font-size="25.5" font-weight="bold" fill="#595959" text-anchor="end" transform="translate(1124.9,969.5) rotate(-45)">ccpA</text>
<text x="0" y="0" font-size="25.5" font-weight="bold" fill="#595959" text-anchor="end" transform="translate(1179.5,969.5) rotate(-45)">hla</text>
<text x="0" y="0" font-size="25.5" font-weight="bold" fill="#595959" text-anchor="end" transform="translate(1234.1,969.5) rotate(-45)">lukD</text>
<text x="0" y="0" font-size="25.5" font-weight="bold" fill="#595959" text-anchor="end" transform="translate(1288.7,969.5) rotate(-45)">hlgA</text>
<text x="0" y="0" font-size="25.5" font-weight="bold" fill="#595959" text-anchor="end" transform="translate(1343.3,969.5) rotate(-45)">hlgC</text>
<text x="0" y="0" font-size="25.5" font-weight="bold" fill="#595959" text-anchor="end" transform="translate(1397.9,969.5) rotate(-45)">hlgB</text>
<g transform="matrix(0.97,0,0,0.952,20.676,38.526)"><text x="0" y="0" font-size="36" font-weight="bold" text-anchor="middle" transform="translate(704.3,790) rotate(-90)">Relative fold change</text></g>
<g transform="matrix(0.93,0,0,0.957,51.782,41.134)"><text x="0" y="0" font-size="36" font-weight="bold" transform="translate(744.8,928.6) rotate(-90)">of transcripts</text></g>
<g transform="matrix(1.1,0,0,1.109,-74.6,-77.252)"><text x="0" y="0" font-size="31" transform="translate(744.8,720.6) rotate(-90)">(2</text></g>
<g transform="matrix(1.086,0,0,0.981,-63,13.619)"><text x="0" y="0" font-size="22" transform="translate(735.3,694.6) rotate(-90)">-&#916;&#916;CT</text></g>
<g transform="matrix(1.141,0,0,1.429,-105.196,-268.571)"><text x="0" y="0" font-size="31" transform="translate(744.8,630.6) rotate(-90)">)</text></g>
</svg>
</body></html>
